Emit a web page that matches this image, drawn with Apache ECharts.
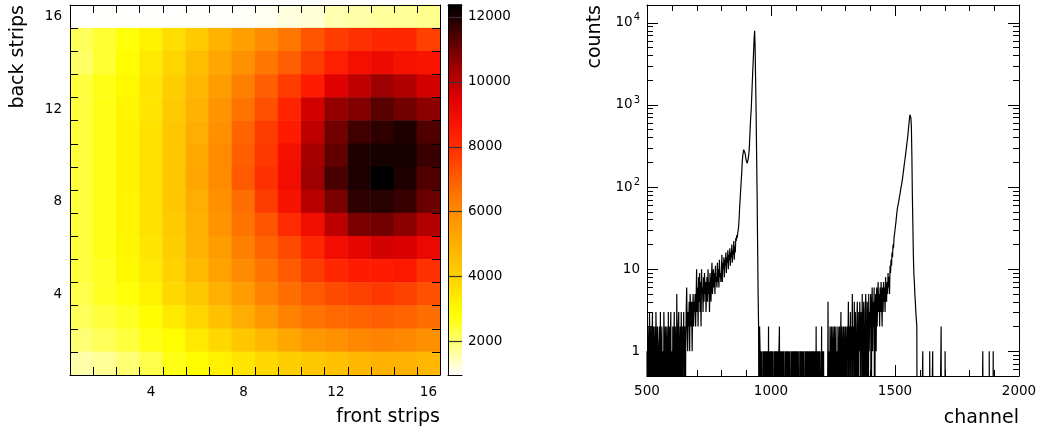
<!DOCTYPE html>
<html><head><meta charset="utf-8">
<script src="https://cdn.jsdelivr.net/npm/echarts@6/dist/echarts.min.js"></script>
<style>html,body{margin:0;padding:0;background:#fff}#c{width:1040px;height:430px}</style>
</head><body><div id="c"></div>
<script>
// ---------- data ----------
const strips = ['1','2','3','4','5','6','7','8','9','10','11','12','13','14','15','16'];
// heat map rows, back strip 16 (top) first, front strips 1..16 left to right
const heatRows = [
  [962, 965, 968, 970, 975, 980, 990, 1000, 1080, 1190, 1250, 1550, 1610, 1700, 1730, 1790],
  [2200, 2500, 2800, 3200, 3700, 4200, 4900, 5500, 6000, 6500, 7200, 7700, 8000, 8200, 8200, 7600],
  [2100, 2500, 2900, 3400, 3900, 4600, 5300, 5900, 6500, 7000, 7700, 8400, 8900, 9100, 8800, 8700],
  [2400, 2700, 3000, 3500, 4100, 4800, 5600, 6300, 7000, 7700, 8500, 9500, 10000, 10500, 10200, 9700],
  [2400, 2700, 3100, 3500, 4200, 4900, 5800, 6600, 7300, 8300, 9700, 10600, 10800, 11300, 11000, 10700],
  [2400, 2700, 3150, 3600, 4300, 5100, 5900, 6900, 7700, 8500, 10000, 11000, 11600, 11800, 12000, 11400],
  [2400, 2700, 3150, 3600, 4300, 5200, 6000, 7000, 7800, 8900, 10400, 11200, 12000, 12100, 12100, 11700],
  [2400, 2700, 3150, 3600, 4300, 5300, 6000, 7100, 8000, 9000, 10500, 11500, 12000, 12360, 12000, 11400],
  [2400, 2700, 3100, 3600, 4300, 5100, 5900, 6700, 7700, 8800, 10100, 10900, 11800, 11900, 11700, 11100],
  [2400, 2700, 3100, 3600, 4200, 5000, 5800, 6600, 7200, 8100, 9000, 10000, 10900, 11000, 10700, 10200],
  [2400, 2700, 3050, 3500, 4100, 4900, 5600, 6300, 6900, 7400, 8200, 9000, 9300, 9700, 9600, 9200],
  [2400, 2600, 3000, 3400, 4000, 4700, 5400, 6000, 6600, 7100, 7700, 8200, 8500, 8500, 8600, 8000],
  [2300, 2600, 2800, 3200, 3800, 4300, 5000, 5600, 6200, 6700, 7100, 7400, 7600, 7800, 7600, 7300],
  [2200, 2400, 2600, 2900, 3400, 3900, 4500, 5100, 5700, 6200, 6600, 6800, 6900, 7000, 6900, 6700],
  [2000, 2200, 2400, 2700, 2900, 3400, 3800, 4300, 4800, 5300, 5700, 5900, 6100, 6200, 6100, 5900],
  [1600, 1750, 2000, 2300, 2700, 2900, 3200, 3500, 3800, 4100, 4300, 4500, 4800, 4900, 4900, 4800]
];
const zMin = 960, zMax = 12360;
const colorTicks = [2000, 4000, 6000, 8000, 10000, 12000];
const palette = ['#ffffff','#ffff80','#ffff00','#ffd800','#ffb800','#ff9800','#ff7000',
                 '#ff4000','#ff1800','#e00000','#a00000','#500000','#000000'];

// spectrum: counts per 2-channel bin starting at channel 500 (one row = 100 channels)
const binStart = 500, binWidth = 2;
const counts = [
  1,0,2,1,0,3,1,0,2,0,1,3,0,2,1,0,2,0,3,1,0,2,1,0,1,2,0,3,0,1,2,0,1,0,3,1,0,2,0,1,2,1,0,3,0,2,0,1,3,0,
  1,0,2,0,1,3,0,2,1,0,5,1,0,2,3,0,1,2,0,3,1,0,2,1,3,0,2,0,1,3,6,2,1,3,2,4,1,5,3,2,4,1,3,5,2,4,3,5,2,4,
  10,3,6,2,8,4,9,3,7,2,10,5,6,3,8,4,9,5,7,3,6,8,4,10,5,7,3,9,6,4,8,12,5,7,10,6,9,5,11,7,8,6,12,7,10,6,13,8,9,7,
  9,15,7,12,10,14,8,13,11,16,9,14,12,17,10,15,13,18,11,16,14,20,12,17,15,22,13,19,16,24,22,26,24,28,30,35,45,60,75,95,120,150,200,240,265,285,290,275,255,230,
  210,200,195,205,220,245,280,380,520,700,850,1200,1700,2400,3300,4600,6500,8000,5000,2000,800,250,80,20,5,2,0,2,1,0,1,0,1,1,0,1,0,1,0,1,0,1,0,1,0,2,0,1,0,1,
  0,1,0,1,1,0,1,0,1,0,1,0,1,0,1,0,1,2,0,1,0,1,0,1,0,1,1,0,1,0,1,0,1,0,1,0,1,0,1,1,0,1,0,1,0,1,0,1,0,1,
  0,1,0,1,0,1,1,0,1,0,1,0,1,0,1,0,1,1,0,1,0,1,0,1,0,1,0,1,0,1,0,1,0,1,0,1,0,1,0,1,0,2,0,1,0,1,0,1,0,1,
  1,0,2,0,1,0,1,0,0,0,0,0,0,0,0,4,0,1,0,2,1,0,2,1,0,2,0,1,2,0,1,2,0,1,0,2,1,0,2,0,1,3,0,2,1,0,2,1,0,2,
  0,2,1,0,2,1,4,0,2,1,3,0,2,1,5,0,2,1,4,0,3,1,0,2,4,1,0,3,1,4,2,0,3,1,5,0,2,4,1,0,3,5,1,0,4,2,0,5,1,3,
  2,5,0,3,6,1,4,2,6,0,3,5,1,6,2,4,7,3,5,2,6,3,7,4,2,6,3,7,4,6,3,8,5,4,7,5,9,6,8,5,11,9,13,11,16,14,20,18,24,23,
  30,34,38,44,50,56,60,64,70,76,82,90,98,105,115,125,140,155,175,195,215,240,270,300,340,380,430,500,580,660,760,800,700,550,250,80,35,15,9,7,5,4,3,3,2,0,0,0,0,0,
  0,0,0,0,0,0,1,0,0,0,0,0,0,0,0,0,0,0,0,0,1,0,0,0,0,0,1,0,0,0,0,0,0,0,0,0,0,0,0,0,0,0,0,2,0,0,0,0,0,0,
  0,1,0,0,0,0,0,0,0,0,0,0,0,0,0,0,0,0,0,0,0,0,0,0,0,0,0,0,0,0,0,0,0,0,0,0,0,0,0,0,0,0,0,0,0,0,0,0,0,0,
  0,0,0,0,0,0,0,0,0,0,0,0,0,0,0,0,0,0,0,0,0,0,0,0,0,0,0,1,0,0,0,0,0,0,0,0,0,0,0,0,1,0,0,0,0,0,0,0,1,0,
  0,0,0,0,0,0,0,0,0,0,0,0,0,0,0,0,0,0,0,0,0,0,0,0,0,0,0,0,0,0,0,0,0,0,0,0,0,0,0,0,0,0,0,0,0,0,0,0,0,0
];
const logMajor = [1, 10, 100, 1000, 10000];
const logMinor = [0.6,0.7,0.8,0.9, 2,3,4,5,6,7,8,9, 20,30,40,50,60,70,80,90,
  200,300,400,500,600,700,800,900, 2000,3000,4000,5000,6000,7000,8000,9000];
const chanMajor = [500, 1000, 1500, 2000];
const chanMinor = [600, 700, 800, 900, 1100, 1200, 1300, 1400, 1600, 1700, 1800, 1900];

// ---------- chart ----------
const F = 'DejaVu Sans';
const LBL = {fontFamily: F, fontSize: 13.5, color: '#000', formatter: (v) => String(v)};
const NAME = {fontFamily: F, fontSize: 19, color: '#000'};
const blk = (w) => ({color: '#000', width: w || 1});
const heatData = [];
heatRows.forEach((row, r) => row.forEach((v, c) => heatData.push([c, strips.length - 1 - r, v])));
const histData = counts.map((v, i) => [binStart + i * binWidth, v > 0 ? v : 0.01]);
histData.push([binStart + counts.length * binWidth, counts[counts.length - 1] > 0 ? counts[counts.length - 1] : 0.01]);
// colour-bar slices [x, low, high, middle] -> coloured by the same visualMap
const barStep = 40;
const barSlices = [];
for (let lo = zMin; lo < zMax; lo += barStep) {
  const hi = Math.min(lo + barStep, zMax);
  barSlices.push([0, lo, hi, (lo + hi) / 2]);
}
const stripBounds = strips.slice(1).map((s, i) => [i + 1, 0]);
const chanTicks = chanMajor.map((v) => [v, 1]).concat(chanMinor.map((v) => [v, 0]));
const snap = (x) => Math.round(x) + 0.5;
const tickLine = (x1, y1, x2, y2) => ({type: 'line', shape: {x1: x1, y1: y1, x2: x2, y2: y2}, style: {stroke: '#000', lineWidth: 1}});

const everyFourth = (i) => (i + 1) % 4 === 0;
function catAxis(extra, tick) {
  return Object.assign({
    type: 'category', data: strips, boundaryGap: true, zlevel: 1, z: 10,
    axisLine: {show: true, lineStyle: blk()},
    axisTick: Object.assign({show: true, inside: true, length: 8, interval: 0, lineStyle: blk()}, tick || {}),
    axisLabel: {show: false}, splitLine: {show: false}
  }, extra);
}
function frameAxis(extra) {
  return Object.assign({
    type: 'value', zlevel: 1, z: 10, axisLine: {show: true, lineStyle: blk()}, axisTick: {show: false},
    axisLabel: {show: false}, splitLine: {show: false}
  }, extra);
}
function logAxis(extra) {
  return Object.assign({
    type: 'log', logBase: 10, min: 0.5, max: 16500,
    axisLine: {show: true, lineStyle: blk()},
    axisTick: {show: true, inside: true, length: 11, customValues: logMajor, lineStyle: blk()},
    axisLabel: {show: false}, splitLine: {show: false}, minorTick: {show: false}
  }, extra);
}
function chanAxis(extra) {
  return Object.assign({
    type: 'value', min: 500, max: 2000, interval: 500,
    axisLine: {show: true, lineStyle: blk()},
    axisTick: {show: false}, minorTick: {show: false},
    axisLabel: {show: false}, splitLine: {show: false}, minorSplitLine: {show: false}
  }, extra);
}
const noTick = {show: false};

const option = {
  animation: false,
  backgroundColor: '#fff',
  grid: [
    {left: 70, top: 5, width: 370, height: 370},
    {left: 448, top: 5, width: 14, height: 370},
    {left: 647, top: 5, width: 372, height: 371},
    {left: 647, top: 5, width: 372, height: 371}
  ],
  visualMap: {
    type: 'continuous', show: false, min: zMin, max: zMax, seriesIndex: [0, 2],
    inRange: {color: palette}
  },
  xAxis: [
    catAxis({gridIndex: 0, position: 'bottom',
      axisLabel: Object.assign({show: true, interval: everyFourth, margin: 10}, LBL),
      name: 'front strips', nameLocation: 'end', nameGap: 0,
      nameTextStyle: Object.assign({align: 'right', verticalAlign: 'top', padding: [33, 0, 0, 0]}, NAME)}, noTick),
    catAxis({gridIndex: 0, position: 'top'}, noTick),
    frameAxis({gridIndex: 1, position: 'bottom', min: 0, max: 1}),
    frameAxis({gridIndex: 1, position: 'top', min: 0, max: 1}),
    chanAxis({gridIndex: 2, position: 'bottom',
      axisLabel: Object.assign({show: true, margin: 8}, LBL),
      name: 'channel', nameLocation: 'end', nameGap: 0,
      nameTextStyle: Object.assign({align: 'right', verticalAlign: 'top', padding: [33, 0, 0, 0]}, NAME)}),
    chanAxis({gridIndex: 2, position: 'top'}),
    {gridIndex: 3, type: 'value', min: 500, max: 2000, show: false}
  ],
  yAxis: [
    catAxis({gridIndex: 0, position: 'left',
      axisLabel: Object.assign({show: true, interval: everyFourth, margin: 8}, LBL),
      name: 'back strips', nameLocation: 'end', nameGap: 0, nameRotate: 90,
      nameTextStyle: Object.assign({align: 'right', verticalAlign: 'bottom', padding: [0, 0, 42, 0]}, NAME)}),
    catAxis({gridIndex: 0, position: 'right'}),
    frameAxis({gridIndex: 1, position: 'right', min: zMin, max: zMax,
      axisLabel: Object.assign({show: true, customValues: colorTicks, margin: 6}, LBL)}),
    frameAxis({gridIndex: 1, position: 'left', min: zMin, max: zMax}),
    logAxis({gridIndex: 2, position: 'left',
      axisLabel: {show: true, margin: 7, customValues: logMajor,
        formatter: function (v) {
          const e = Math.round(Math.log10(v));
          return e < 2 ? '{n|' + Math.round(v) + '}' : '{n|10}{s|' + e + '}';
        },
        rich: {n: {fontFamily: F, fontSize: 13.5, color: '#000'},
               s: {fontFamily: F, fontSize: 10, color: '#000', padding: [0, 0, 10, 1]}}},
      name: 'counts', nameLocation: 'end', nameGap: 0, nameRotate: 90,
      nameTextStyle: Object.assign({align: 'right', verticalAlign: 'bottom', padding: [0, 0, 42, 0]}, NAME)}),
    logAxis({gridIndex: 2, position: 'right'}),
    logAxis({gridIndex: 3, position: 'left', axisLine: {show: false},
      axisTick: {show: true, inside: true, length: 6, customValues: logMinor, lineStyle: blk()}}),
    logAxis({gridIndex: 3, position: 'right', axisLine: {show: false},
      axisTick: {show: true, inside: true, length: 6, customValues: logMinor, lineStyle: blk()}})
  ],
  series: [
    {type: 'heatmap', xAxisIndex: 0, yAxisIndex: 0, data: heatData, itemStyle: {borderWidth: 0}},
    {type: 'line', xAxisIndex: 4, yAxisIndex: 4, data: histData, step: 'end', symbol: 'none',
     showSymbol: false, clip: true, lineStyle: {color: '#000', width: 1.2}},
    {type: 'custom', xAxisIndex: 2, yAxisIndex: 2, data: barSlices, encode: {x: 0, y: 1}, z: 2,
     renderItem: function (params, api) {
       const a = api.coord([0, api.value(1)]);
       const b = api.coord([1, api.value(2)]);
       return {type: 'rect', shape: {x: a[0], y: b[1] - 0.8, width: b[0] - a[0], height: a[1] - b[1] + 1.6},
               style: {fill: api.visual('color'), stroke: null}};
     }},
    {type: 'custom', xAxisIndex: 2, yAxisIndex: 2, data: colorTicks.map((v) => [0, v]), encode: {x: 0, y: 1}, z: 5,
     renderItem: function (params, api) {
       const a = api.coord([0, api.value(1)]);
       const b = api.coord([1, api.value(1)]);
       return {type: 'line', shape: {x1: a[0], y1: snap(a[1]), x2: b[0], y2: snap(b[1])},
               style: {stroke: '#333', lineWidth: 1.2}};
     }},
    // tick marks at the strip boundaries, bottom and top of the hit map
    {type: 'custom', xAxisIndex: 0, yAxisIndex: 0, data: stripBounds, encode: {x: 0, y: 1}, z: 5,
     renderItem: function (params, api) {
       const i = api.value(0);
       const sz = api.size([1, 1]);
       const c0 = api.coord([i, 0]);
       const c1 = api.coord([i, strips.length - 1]);
       const x = snap(c0[0] - sz[0] / 2);
       const yb = c0[1] + sz[1] / 2, yt = c1[1] - sz[1] / 2;
       return {type: 'group', children: [tickLine(x, yb, x, yb - 8), tickLine(x, yt, x, yt + 8)]};
     }},
    // channel-axis tick marks, bottom and top of the spectrum
    {type: 'custom', xAxisIndex: 4, yAxisIndex: 4, data: chanTicks, encode: {x: 0, y: 1}, z: 5,
     renderItem: function (params, api) {
       const len = api.value(1) ? 11 : 6;
       const b = api.coord([api.value(0), 0.5]);
       const t = api.coord([api.value(0), 16500]);
       const x = snap(b[0]);
       return {type: 'group', children: [tickLine(x, b[1], x, b[1] - len), tickLine(x, t[1], x, t[1] + len)]};
     }}
  ]
};
const chart = echarts.init(document.getElementById('c'), null, {renderer: 'canvas'});
chart.setOption(option);
</script>
</body></html>
